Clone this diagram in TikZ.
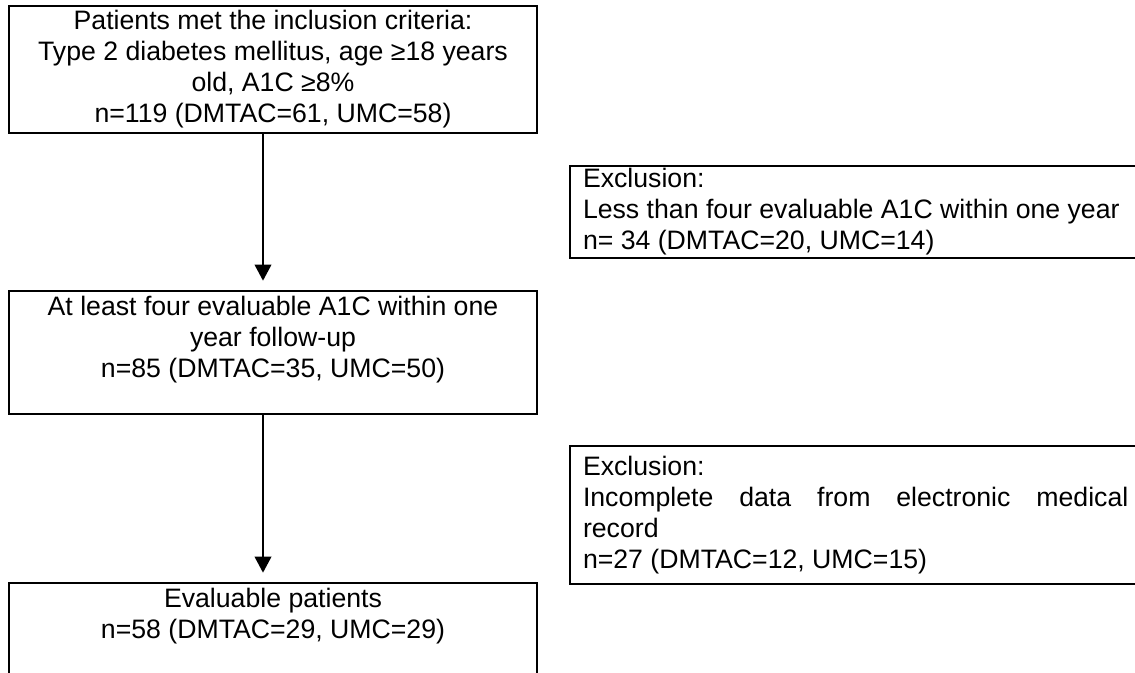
\documentclass[tikz,border=0pt]{standalone}
\usepackage{fontspec}
\setmainfont{Liberation Sans}
\usetikzlibrary{arrows.meta}
\def\Inclusion{Patients met the inclusion criteria:\\Type 2 diabetes mellitus, age ≥18 years\\old, A1C ≥8\%\\n=119 (DMTAC=61, UMC=58)}
\def\FollowUp{At least four evaluable A1C within one\\year follow-up\\n=85 (DMTAC=35, UMC=50)\\~}
\def\Evaluable{Evaluable patients\\n=58 (DMTAC=29, UMC=29)\\~\\~}
\def\ExclA1C{Exclusion:\\Less than four evaluable A1C within one year\\n= 34 (DMTAC=20, UMC=14)}
\def\ExclEMR{Exclusion:\\Incomplete data from electronic medical\linebreak record\\n=27 (DMTAC=12, UMC=15)\par\vspace{10.5pt}}

\begin{document}
\begin{tikzpicture}[x=0.75pt, y=-0.75pt,
    font=\fontsize{20}{23.25}\selectfont,
    stage/.style={draw, line width=1.5pt, anchor=north west, align=center,
        minimum width=396pt, inner sep=0pt},
    exclusion/.style={draw, line width=1.5pt, anchor=north west, align=justify,
        text width=409pt, inner xsep=9.75pt, inner ysep=0pt},
    flow/.style={line width=1.2pt, -{Triangle[length=12pt, width=12.5pt]}, shorten >=7pt}]
    \useasboundingbox (0,0) rectangle (1135,673);
    \clip (0,0) rectangle (1135,673);

    % main stages
    \node[stage, minimum height=95.25pt] (incl) at (8,5) {\Inclusion};
    \node[stage, minimum height=92.25pt] (fu) at (8,290) {\FollowUp};
    \node[stage, minimum height=92.25pt] (eval) at (8,582) {\Evaluable};

    % exclusions
    \node[exclusion, minimum height=69pt] (exA1C) at (569,165) {\ExclA1C};
    \node[exclusion, minimum height=103.5pt] (exEMR) at (569,445) {\ExclEMR};

    \coordinate (axis) at (263,0);
    \draw[flow] (incl.south -| axis) -- (fu.north -| axis);
    \draw[flow] (fu.south -| axis) -- (eval.north -| axis);
\end{tikzpicture}
\end{document}
